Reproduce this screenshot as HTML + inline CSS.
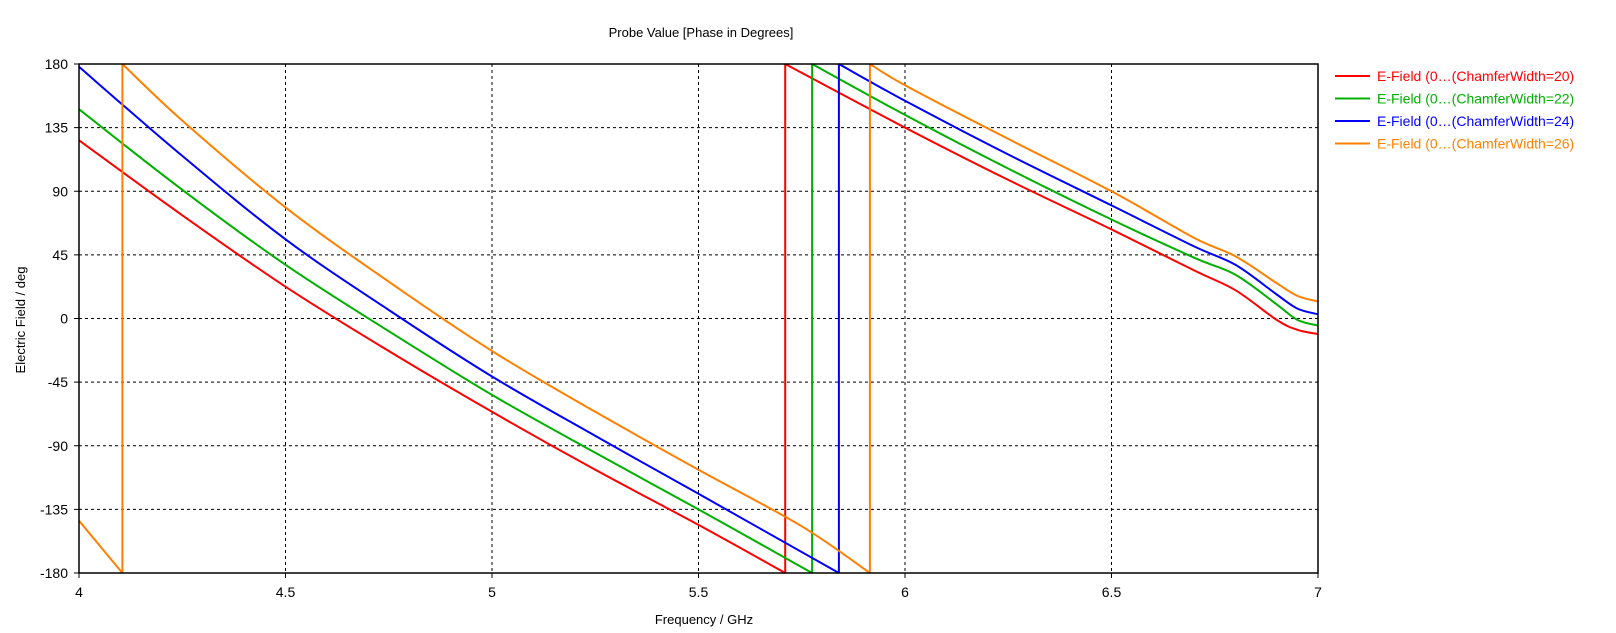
<!DOCTYPE html>
<html><head><meta charset="utf-8"><style>
body{margin:0;background:#fff;}
svg{display:block;font-family:"Liberation Sans",sans-serif;}
</style></head><body>
<svg id="chart" width="1616" height="633">
<text x="701" y="37" text-anchor="middle" font-size="13">Probe Value [Phase in Degrees]</text>
<text x="704" y="624" text-anchor="middle" font-size="13">Frequency / GHz</text>
<text x="25" y="320" text-anchor="middle" font-size="13" transform="rotate(-90 25 320)">Electric Field / deg</text>
<g id="grid"></g><g id="series"></g><g id="axes"></g><g id="legend"></g>
</svg>
<script>
const xTicks=[4,4.5,5,5.5,6,6.5,7];
const xTickLabels=["4","4.5","5","5.5","6","6.5","7"];
const yTicks=[180,135,90,45,0,-45,-90,-135,-180];
const seriesNames=["E-Field (0…(ChamferWidth=20)","E-Field (0…(ChamferWidth=22)","E-Field (0…(ChamferWidth=24)","E-Field (0…(ChamferWidth=26)"];
const seriesColors=["#ff0000","#00b000","#0000ff","#ff8000"];
const red=[[[4,126],[4.25,73],[4.5,22.5],[4.75,-23],[5,-66],[5.25,-107],[5.5,-146],[5.71,-180]],
 [[5.71,180],[6,135],[6.25,98],[6.5,63],[6.7,34],[6.8,20],[6.9,-1],[6.95,-8],[7,-11]]];
const green=[[[4,148],[4.25,91],[4.5,38],[4.75,-9],[5,-54],[5.25,-95],[5.5,-135],[5.775,-180]],
 [[5.775,180],[6,144],[6.25,106],[6.5,70],[6.7,43],[6.8,31],[6.9,10],[6.95,-1],[7,-5]]];
const blue=[[[4,178],[4.25,115],[4.5,56],[4.75,6],[5,-41],[5.25,-83],[5.5,-124],[5.84,-180]],
 [[5.84,180],[6,154],[6.25,116],[6.5,80],[6.7,51],[6.8,38],[6.9,17],[6.95,7],[7,3]]];
const orange=[[[4,-143],[4.105,-180]],
 [[4.105,180],[4.25,140],[4.5,78.6],[4.75,26],[5,-23],[5.25,-66],[5.5,-107],[5.75,-147],[5.915,-180]],
 [[5.915,180],[6,165],[6.25,127],[6.5,90],[6.7,57],[6.8,44],[6.9,25],[6.95,16],[7,12]]];
const allSeries=[red,green,blue,orange];

const X0=79,X1=1318,Y0=64,Y1=573;
const xs=f=>X0+(f-4)/3*(X1-X0);
const ys=v=>Y0+(180-v)/360*(Y1-Y0);
const NS="http://www.w3.org/2000/svg";
function mk(tag,attrs,parent){const e=document.createElementNS(NS,tag);for(const k in attrs)e.setAttribute(k,attrs[k]);parent.appendChild(e);return e;}
const grid=document.getElementById('grid'),axes=document.getElementById('axes'),ser=document.getElementById('series'),leg=document.getElementById('legend');
xTicks.forEach((t,i)=>{
 const x=xs(t);
 if(i>0&&i<xTicks.length-1){const l=mk('line',{x1:x,x2:x,y1:Y0,y2:Y1,stroke:'#000','stroke-dasharray':'3,3'},grid);
 
 }
 const tk=mk('line',{x1:x,x2:x,y1:Y1,y2:Y1+5,stroke:'#000'},axes);
 
 
 const tx=mk('text',{x:x,y:Y1+24,'text-anchor':'middle','font-size':14},axes);tx.textContent=xTickLabels[i];
 
 
});
yTicks.forEach((t,i)=>{
 const y=ys(t);
 if(i>0&&i<yTicks.length-1){const l=mk('line',{x1:X0,x2:X1,y1:y,y2:y,stroke:'#000','stroke-dasharray':'3,3'},grid);
 
 }
 const tk=mk('line',{x1:X0-5,x2:X0,y1:y,y2:y,stroke:'#000'},axes);
 
 
 const tx=mk('text',{x:X0-11,y:y+5,'text-anchor':'end','font-size':14},axes);tx.textContent=String(t);
 
 
});
const frame=mk('rect',{x:X0,y:Y0,width:X1-X0,height:Y1-Y0,fill:'none',stroke:'#000','stroke-width':1.5},axes);


function smoothPath(pts){
 const P=pts.map(p=>[xs(p[0]),ys(p[1])]);
 let d='M'+P[0][0].toFixed(1)+','+P[0][1].toFixed(1);
 for(let i=0;i<P.length-1;i++){
  const p0=P[Math.max(0,i-1)],p1=P[i],p2=P[i+1],p3=P[Math.min(P.length-1,i+2)];
  const c1=[p1[0]+(p2[0]-p0[0])/6,p1[1]+(p2[1]-p0[1])/6];
  const c2=[p2[0]-(p3[0]-p1[0])/6,p2[1]-(p3[1]-p1[1])/6];
  d+='C'+c1[0].toFixed(1)+','+c1[1].toFixed(1)+' '+c2[0].toFixed(1)+','+c2[1].toFixed(1)+' '+p2[0].toFixed(1)+','+p2[1].toFixed(1);
 }
 return d;
}
allSeries.forEach((s,si)=>{
 let d='';
 s.forEach(seg=>{d+=smoothPath(seg);});
 for(let k=0;k<s.length-1;k++){const a=s[k][s[k].length-1],b=s[k+1][0];d+='M'+xs(a[0]).toFixed(1)+','+ys(a[1]).toFixed(1)+'L'+xs(b[0]).toFixed(1)+','+ys(b[1]).toFixed(1);}
 const p=mk('path',{d:d,fill:'none',stroke:seriesColors[si],'stroke-width':2},ser);
 
 
 const ly=76+22.5*si;
 const ll=mk('line',{x1:1335,x2:1370,y1:ly,y2:ly,stroke:seriesColors[si],'stroke-width':2},leg);
 
 
 const lt=mk('text',{x:1377,y:ly+5,'font-size':14,fill:seriesColors[si]},leg);lt.textContent=seriesNames[si];
 
 
});
</script>
</body></html>
